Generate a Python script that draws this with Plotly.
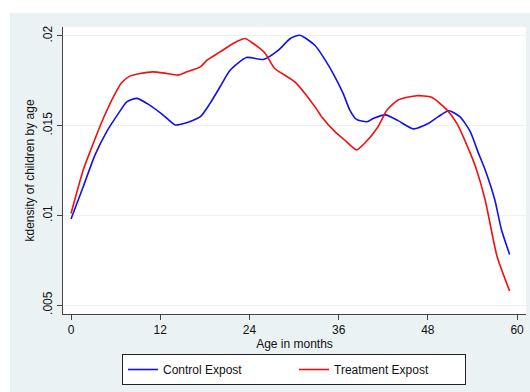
import plotly.graph_objects as go

# Control Expost (blue)
ctrl_age = [0, 1.65, 3.23, 4.8, 6.36, 7.5, 8.85, 10.2, 12.4, 14.0, 15.3, 17.4, 18.7, 20.05, 21.4, 23.6, 25.9,
            27.9, 29.5, 30.8, 32.8, 34.2, 35.5, 36.6, 37.5, 38.4, 39.8, 40.7, 42.3, 44.0, 46.05, 48.1,
            49.4, 50.8, 52.3, 53.7, 54.8, 55.7, 57.0, 57.9, 59.0]
ctrl_den = [0.0098, 0.01161, 0.01337, 0.01467, 0.01567, 0.01633, 0.01652, 0.01624, 0.01559, 0.01504, 0.01513,
            0.0155, 0.01624, 0.01717, 0.01809, 0.0188, 0.01869, 0.01921, 0.01986, 0.02004, 0.01948,
            0.01865, 0.01772, 0.0168, 0.01587, 0.01535, 0.01522, 0.01541, 0.0156, 0.01528, 0.01482,
            0.01513, 0.0155, 0.01583, 0.0155, 0.01467, 0.01347, 0.01254, 0.01087, 0.0092, 0.00782]

# Treatment Expost (red)
treat_age = [0, 1.65, 3.0, 4.35, 5.7, 6.8, 7.9, 9.3, 11.0, 12.9, 14.4, 15.6, 17.4, 18.3, 20.05, 21.8,
             23.4, 24.5, 26.1, 27.4, 30.1, 32.8, 33.7, 35.5, 36.8, 38.4, 39.5, 41.3, 42.5, 44.0, 46.5,
             48.5, 50.5, 51.9, 53.7, 54.4, 55.7, 57.3, 59.0]
treat_den = [0.0101, 0.01254, 0.01402, 0.01541, 0.01661, 0.01739, 0.01776, 0.01791, 0.018, 0.01791,
             0.01782, 0.018, 0.01828, 0.01865, 0.01911, 0.01958, 0.01986, 0.01958, 0.01904, 0.01819,
             0.01744, 0.01606, 0.0155, 0.01467, 0.0142, 0.01365, 0.01402, 0.01494, 0.01587, 0.01643,
             0.01667, 0.01658, 0.01591, 0.01513, 0.01347, 0.01272, 0.01087, 0.00772, 0.00578]

x_ticks = [0, 12, 24, 36, 48, 60]
y_ticks = [0.005, 0.01, 0.015, 0.02]
y_tick_labels = [".005", ".01", ".015", ".02"]

FONT = "Liberation Sans, Arial, sans-serif"
BG = "#EAF2F3"

fig = go.Figure()
fig.add_trace(go.Scatter(x=ctrl_age, y=ctrl_den, mode="lines", name="Control Expost",
                         line=dict(color="#1010F0", width=1.6, shape="spline", smoothing=0.6)))
fig.add_trace(go.Scatter(x=treat_age, y=treat_den, mode="lines", name="Treatment Expost",
                         line=dict(color="#F01010", width=1.6, shape="spline", smoothing=0.6)))

W, H = 530, 392
L, R, T, B = 63, 4, 27, 78
pw, ph = W - L - R, H - T - B

# white strips at the top and left (outside the grey Stata-style frame)
fig.add_shape(type="rect", xref="paper", yref="paper", layer="above",
              x0=-L / pw - 0.01, x1=(W - L) / pw + 0.01,
              y0=1 + (T - 13) / ph, y1=1 + T / ph + 0.01,
              fillcolor="white", line=dict(width=0))
fig.add_shape(type="rect", xref="paper", yref="paper", layer="above",
              x0=-L / pw - 0.01, x1=-(L - 10) / pw,
              y0=-B / ph - 0.01, y1=1 + T / ph + 0.01,
              fillcolor="white", line=dict(width=0))

fig.update_layout(
    width=W, height=H,
    margin=dict(l=L, r=R, t=T, b=B, autoexpand=False),
    paper_bgcolor=BG, plot_bgcolor="white",
    font=dict(family=FONT, size=12, color="#111"),
    showlegend=True,
    legend=dict(orientation="h", x=(294 - L) / pw, y=(T + ph - 369.5) / ph,
                xanchor="center", yanchor="middle",
                bordercolor="#222", borderwidth=1, bgcolor="white",
                font=dict(family=FONT, size=12, color="#111"),
                entrywidth=126, entrywidthmode="pixels", itemwidth=30),
    xaxis=dict(range=[-1.08, 61.2], tickvals=x_ticks, ticks="outside", ticklen=5,
               tickcolor="#444", showline=True, linecolor="#444", linewidth=1,
               showgrid=False, zeroline=False,
               title=dict(text="Age in months", standoff=2, font=dict(size=12)),
               tickfont=dict(size=12)),
    yaxis=dict(range=[0.0045, 0.0205], tickvals=y_ticks, ticktext=y_tick_labels,
               tickangle=-90, ticks="outside", ticklen=5, tickcolor="#444",
               showline=True, linecolor="#444", linewidth=1,
               showgrid=True, gridcolor="#EAF2F3", gridwidth=1, zeroline=False,
               title=dict(text="kdensity of children by age", standoff=4, font=dict(size=12)),
               tickfont=dict(size=12)),
)

fig.write_html("out.html", config={"displayModeBar": False},
               post_script="document.body.style.margin='0';document.body.style.padding='0';")
